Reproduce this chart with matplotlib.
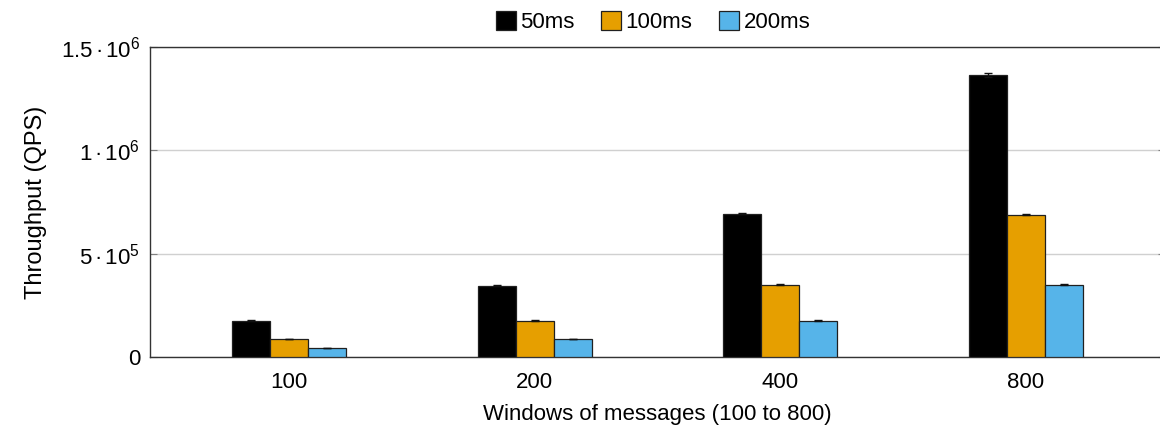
import matplotlib.pyplot as plt
import numpy as np

plt.rcParams['font.family'] = ['Liberation Sans', 'DejaVu Sans']
plt.rcParams['mathtext.fontset'] = 'custom'
plt.rcParams['mathtext.rm'] = 'Liberation Sans'
plt.rcParams['mathtext.it'] = 'Liberation Sans:italic'

# window sizes on the x axis, one group of bars per window
windows = ['100', '200', '400', '800']
series = ['50ms', '100ms', '200ms']
qps_50 = [175000, 345000, 694000, 1364000]
qps_100 = [87000, 175000, 350000, 689000]
qps_200 = [44000, 87000, 175000, 350000]
err_50 = [2500, 3000, 3500, 8000]
err_100 = [1500, 2000, 2500, 4000]
err_200 = [1000, 1500, 2000, 2500]

colors = ['#000000', '#E69F00', '#56B4E9']

fig = plt.figure(figsize=(11.6, 4.3), dpi=100)
ax = fig.add_axes([0.1293, 0.1698, 0.875, 0.721])

x = np.arange(len(windows))
w = 0.155
for i, (vals, errs) in enumerate(zip([qps_50, qps_100, qps_200], [err_50, err_100, err_200])):
    ax.bar(x + (i - 1) * w, vals, w, color=colors[i], edgecolor='#202020', linewidth=0.9,
           label=series[i], zorder=3)
    ax.errorbar(x + (i - 1) * w, vals, yerr=errs, fmt='none', ecolor='#111111',
                elinewidth=1.0, capsize=3, capthick=1.0, zorder=4)


def sci(mant, exp):
    return '$\\mathdefault{' + mant + '\\,\u00b7\\,10^{' + str(exp) + '}}$'


ax.set_xlim(-0.566, 3.566)
ax.set_ylim(0, 1.5e6)
ax.set_xticks(x)
ax.set_xticklabels(windows)
ax.set_yticks([0, 5e5, 1e6, 1.5e6])
ax.set_yticklabels(['0', sci('5', 5), sci('1', 6), sci('1.5', 6)])
ax.tick_params(axis='y', direction='in', length=5, color='#808080', pad=7,
               labelsize=16, right=True)
ax.tick_params(axis='x', length=0, pad=11, labelsize=16)
ax.yaxis.grid(True, color='#d0d0d0', linewidth=1.0, zorder=0)
for s in ax.spines.values():
    s.set_color('#333333')
    s.set_linewidth(1.0)

ax.set_ylabel('Throughput (QPS)', fontsize=17, labelpad=10)
ax.set_xlabel('Windows of messages (100 to 800)', fontsize=16, labelpad=8)

fig.legend(loc='center', bbox_to_anchor=(0.563, 0.948), ncol=3, frameon=False,
           fontsize=16, handlelength=0.9, handleheight=0.9, handletextpad=0.2,
           columnspacing=1.2)

fig.savefig('out.png', dpi=100)
